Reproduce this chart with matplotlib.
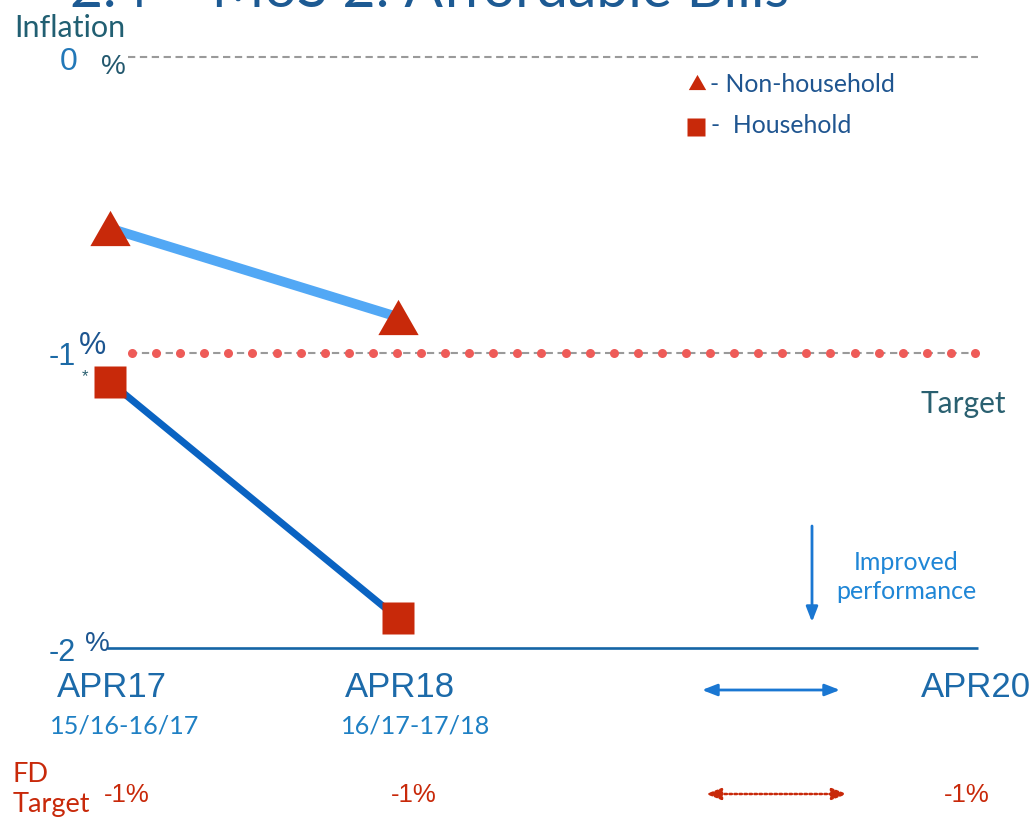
import numpy as np
import matplotlib
matplotlib.use('Agg')
import matplotlib.pyplot as plt

# periods on the x axis (APR19 has no label, only the gap)
periods = ['APR17', 'APR18', 'APR19', 'APR20']
period_x = [0, 1, 2, 3]
shown = ['APR17', 'APR18', 'APR20']
ranges = ['15/16-16/17', '16/17-17/18']

# inflation vs. baseline, %
non_household = [-0.58, -0.88]
household = [-1.10, -1.90]
target = -1.0
fd_target = [-1, -1, -1]

W, H = 1031, 818
fig = plt.figure(figsize=(W / 100, H / 100), dpi=100)
ax = fig.add_axes([0, 0, 1, 1])
ax.axis('off')

# pixel helpers: axis spans the whole figure
X0, XU = 110, 288.0
Y0, YU = 57, 295.5
ax.set_xlim(-X0 / XU, (W - X0) / XU)
ax.set_ylim(-(H - Y0) / YU, Y0 / YU)

def px(x):
    return (x - X0) / XU

def py(y):
    return -(y - Y0) / YU

gill = 'Lato'
helv = 'Liberation Sans'
red = '#c8290a'

# title (partly off the top)
ax.text(px(70), py(7), '2.4 \u2013 MoS 2: Affordable Bills', fontsize=41, family=gill,
        color='#1d5a93', ha='left', va='baseline')
ax.text(px(14), py(37), 'Inflation', fontsize=22, family=gill, color='#215f72',
        ha='left', va='baseline')

# y reference lines
ax.plot([px(128), px(978)], [0, 0], color='#9a9a9a', lw=1.5, dashes=(3.5, 2.2))
ax.plot([px(130), px(978)], [target, target], color='#9a9a9a', lw=1.5, dashes=(3.5, 2.2))
dots = np.linspace(px(132), px(975), 36)
ax.plot(dots, [target] * len(dots), 'o', color='#ee5b58', ms=6.5, mec='none')
ax.plot([px(107), px(978)], [-2, -2], color='#1565a5', lw=1.9, solid_capstyle='butt')

# y tick labels
ax.text(px(69), py(70), '0', fontsize=23, family=helv, color='#2278b8', ha='center', va='baseline')
ax.text(px(101), py(74), '%', fontsize=20, family=helv, color='#23586e', ha='left', va='baseline')
ax.text(px(49), py(365), '-1', fontsize=22, family=helv, color='#1c6aa6', ha='left', va='baseline')
ax.text(px(79), py(354), '%', fontsize=22, family=helv, color='#1c5590', ha='left', va='baseline')
ax.text(px(85), py(381), '*', fontsize=12, family=helv, color='#2a5f70', ha='center', va='baseline')
ax.text(px(49), py(661), '-2', fontsize=22, family=helv, color='#1c6aa6', ha='left', va='baseline')
ax.text(px(85), py(651), '%', fontsize=20, family=helv, color='#1c5590', ha='left', va='baseline')
ax.text(px(920), py(413), 'Target', fontsize=21.5, family=gill, color='#2a6070',
        ha='left', va='baseline')

# series
tri = [(-1, -0.875), (1, -0.875), (0, 0.875)]
ax.plot(period_x[:2], non_household, color='#52a8f5', lw=7, solid_capstyle='butt', zorder=3)
ax.plot(period_x[:2], non_household, ls='none', marker=tri, ms=29, color=red, mec='none', zorder=4)
ax.plot(period_x[:2], household, color='#0a63c2', lw=5, solid_capstyle='butt', zorder=3)
ax.plot(period_x[:2], household, ls='none', marker='s', ms=23, color=red, mec='none', zorder=4)

# legend
ax.plot(px(697), py(82), marker=tri, ms=12.5, color=red, mec='none')
ax.plot(px(696), py(126.5), marker='s', ms=12.5, color=red, mec='none')
ax.text(px(710), py(92), '- Non-household', fontsize=17.8, family=gill, color='#1f5590',
        ha='left', va='baseline')
ax.text(px(711), py(133), '-  Household', fontsize=17.8, family=gill, color='#1f5590',
        ha='left', va='baseline')

# improved performance arrow
ax.annotate('', xy=(px(812), py(622)), xytext=(px(812), py(526)),
            arrowprops=dict(arrowstyle='-|>,head_length=0.9,head_width=0.35',
                            color='#1a77d2', lw=2, shrinkA=0, shrinkB=0))
ax.text(px(906), py(570), 'Improved', fontsize=18, family=gill, color='#1f86d6',
        ha='center', va='baseline')
ax.text(px(906), py(599), 'performance', fontsize=18, family=gill, color='#1f86d6',
        ha='center', va='baseline')

# x labels
for lab in shown:
    xv = period_x[periods.index(lab)]
    ax.text(xv + px(112) - px(110), py(697), lab, fontsize=25, family=helv,
            color='#1c6aa9', ha='center', va='baseline')
ax.text(px(125), py(733), ranges[0], fontsize=18.2, family=gill, color='#1f80c4',
        ha='center', va='baseline')
ax.text(px(416), py(733), ranges[1], fontsize=18.2, family=gill, color='#1f80c4',
        ha='center', va='baseline')
ax.annotate('', xy=(px(840), py(690)), xytext=(px(702), py(690)),
            arrowprops=dict(arrowstyle='<|-|>,head_length=0.9,head_width=0.35',
                            color='#1a77d2', lw=2, shrinkA=0, shrinkB=0))

# FD target row
ax.text(px(13), py(782), 'FD', fontsize=19.5, family=gill, color=red, ha='left', va='baseline')
ax.text(px(13), py(812), 'Target', fontsize=19.5, family=gill, color=red, ha='left', va='baseline')
fd_centers = [px(127), px(414), px(967)]
for xc, v in zip(fd_centers, fd_target):
    ax.text(xc, py(802), f'{v}%', fontsize=18.5, family=helv, color=red,
            ha='center', va='baseline')
ax.annotate('', xy=(px(847), py(794)), xytext=(px(706), py(794)),
            arrowprops=dict(arrowstyle='<|-|>,head_length=0.9,head_width=0.35',
                            color=red, lw=1.8, ls=(0, (1, 1)), shrinkA=0, shrinkB=0))

fig.savefig('out.png', dpi=100)
